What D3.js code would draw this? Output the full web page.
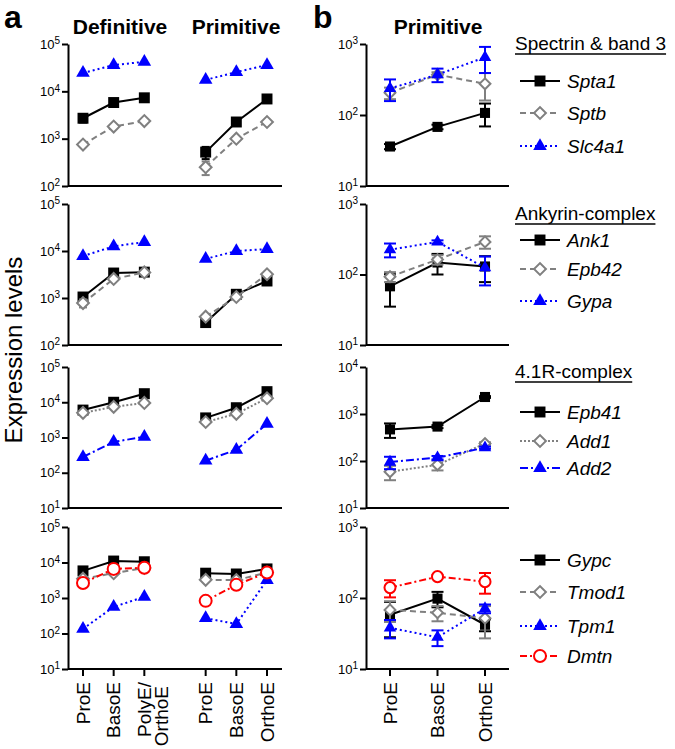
<!DOCTYPE html>
<html>
<head>
<meta charset="utf-8">
<script src="https://cdn.jsdelivr.net/npm/d3@7"></script>
<style>
  body { margin: 0; background: #fff; }
  text { font-family: "Liberation Sans", Arial, sans-serif; fill: #000; }
</style>
</head>
<body>
<script>
// stages and groups
var stagesDef = ["ProE", "BasoE", "PolyE/OrthoE"];
var stagesPrim = ["ProE", "BasoE", "OrthoE"];
var groups = ["Definitive", "Primitive"];
var legendTitles = ["Spectrin & band 3", "Ankyrin-complex", "4.1R-complex", ""];
var genes = [
  ["Spta1", "Sptb", "Slc4a1"],
  ["Ank1", "Epb42", "Gypa"],
  ["Epb41", "Add1", "Add2"],
  ["Gypc", "Tmod1", "Tpm1", "Dmtn"]
];

// panel a, definitive / primitive (per row, per gene, per stage)
var aDef = [
  [[2700, 5800, 7300], [750, 1800, 2350], [24500, 36000, 42000]],
  [[1050, 3400, 3550], [780, 2550, 3500], [7800, 12600, 15500]],
  [[6000, 10000, 17500], [5000, 7400, 9600], [280, 750, 1050]],
  [[5800, 11000, 10500], [3500, 5000, 7000], [135, 560, 1080], [2650, 6600, 7100]]
];
var aDefErr = [
  [[500, 0, 0], [0, 0, 0], [0, 0, 0]],
  [[0, 0, 0], [150, 0, 0], [0, 0, 0]],
  [[0, 0, 0], [0, 0, 0], [0, 0, 0]],
  [[0, 0, 0], [0, 0, 0], [0, 0, 0], [0, 0, 0]]
];
var aPrim = [
  [[520, 2250, 6900], [250, 1000, 2250], [17500, 25500, 36000]],
  [[300, 1200, 2300], [400, 1050, 3200], [6800, 10000, 11000]],
  [[3600, 7000, 20000], [2750, 4700, 13000], [220, 450, 2450]],
  [[5000, 4750, 6600], [3250, 3200, 5200], [270, 185, 3200], [830, 2350, 5200]]
];
var aPrimErr = [
  [[150, 0, 0], [80, 0, 0], [0, 0, 0]],
  [[30, 0, 0], [0, 0, 0], [0, 0, 0]],
  [[0, 0, 0], [0, 0, 0], [0, 0, 0]],
  [[0, 0, 0], [0, 0, 0], [0, 0, 0], [0, 0, 0]]
];

// panel b, primitive with error
var bMean = [
  [[36, 68, 107], [205, 370, 275], [237, 370, 650]],
  [[68, 148, 130], [93, 163, 290], [225, 290, 125]],
  [[470, 540, 2300], [59, 83, 235], [95, 118, 192]],
  [[58, 98, 42], [68, 62, 52], [38, 28, 71], [140, 200, 170]]
];
var bErr = [
  [[3, 5, 38], [38, 30, 115], [80, 80, 260]],
  [[33, 48, 52], [15, 25, 58], [50, 15, 55]],
  [[160, 40, 100], [20, 20, 15], [28, 10, 10]],
  [[30, 24, 8], [22, 15, 25], [11, 7, 10], [38, 10, 55]]
];

var aDomains = [[1e2, 1e5], [1e2, 1e5], [1e1, 1e5], [1e1, 1e5]];
var bDomains = [[1e1, 1e3], [1e1, 1e3], [1e1, 1e4], [1e1, 1e3]];

// layout
var W = 675, H = 749;
var rowTop = [44, 204, 367, 527], rowBot = [186, 345, 508, 669];
var aAxisX = 68, aAxisEnd = 282;
var bAxisX = 366, bAxisEnd = 509;

// look of each series slot
var colors = ["#000000", "#808080", "#0000ff", "#ff0000"];
var shapes = ["square", "diamond", "triangle", "circle"];
var dashes = [
  [null, "6,4", "2,3"],
  [null, "6,4", "2,3"],
  [null, "2,2", "8,3,2,3"],
  [null, "6,4", "2,3", "7,3,2,3"]
];

var svg = d3.select("body").append("svg").attr("width", W).attr("height", H);

function drawMarker(g, shape, x, y, col, s) {
  s = s || 1;
  if (shape == "square") {
    g.append("path").attr("d", d3.symbol(d3.symbolSquare, 120 * s * s)())
      .attr("transform", "translate(" + x + "," + y + ")").attr("fill", col);
  } else if (shape == "diamond") {
    g.append("path").attr("d", d3.symbol(d3.symbolSquare, 70 * s * s)())
      .attr("transform", "translate(" + x + "," + y + ") rotate(45)")
      .attr("fill", "#fff").attr("stroke", col).attr("stroke-width", 2);
  } else if (shape == "triangle") {
    g.append("path").attr("d", d3.symbol(d3.symbolTriangle, 80 * s * s)())
      .attr("transform", "translate(" + x + "," + y + ")").attr("fill", col);
  } else {
    g.append("circle").attr("cx", x).attr("cy", y).attr("r", 6 * s)
      .attr("fill", "#fff").attr("stroke", col).attr("stroke-width", 2);
  }
}

function yAxis(g, y, x) {
  var d = y.domain();
  var vals = [];
  for (var p = Math.log10(d[0]); p <= Math.log10(d[1]); p++) vals.push(Math.pow(10, p));
  var ax = g.append("g").attr("transform", "translate(" + x + ",0)")
    .call(d3.axisLeft(y).tickValues(vals).tickSize(6).tickSizeOuter(0).tickPadding(2));
  ax.select(".domain").attr("stroke-width", 2);
  ax.selectAll(".tick line").attr("stroke-width", 2);
  ax.selectAll(".tick text").each(function(v) {
    var t = d3.select(this);
    t.text("10").attr("font-size", 13).attr("font-family", "Liberation Sans, Arial, sans-serif");
    t.append("tspan").attr("dy", "-0.45em").attr("font-size", 10).text(Math.round(Math.log10(v)));
  });
}

function series(g, xs, means, errs, y, col, shape, dash, cap, s) {
  var pts = means.map(function(m, i) { return [xs[i], y(m)]; });
  g.append("path").attr("d", d3.line()(pts)).attr("fill", "none")
    .attr("stroke", col).attr("stroke-width", 2).attr("stroke-dasharray", dash);
  var dom = y.domain();
  means.forEach(function(m, i) {
    var e = errs[i];
    if (!e) return;
    var lo = y(Math.max(m - e, dom[0])), hi = y(m + e);
    g.append("line").attr("x1", xs[i]).attr("x2", xs[i]).attr("y1", lo).attr("y2", hi)
      .attr("stroke", col).attr("stroke-width", 2);
    [lo, hi].forEach(function(yy) {
      g.append("line").attr("x1", xs[i] - cap / 2).attr("x2", xs[i] + cap / 2)
        .attr("y1", yy).attr("y2", yy).attr("stroke", col).attr("stroke-width", 2);
    });
  });
  means.forEach(function(m, i) { drawMarker(g, shape, xs[i], y(m), col, s); });
}

// panel a positions: 0..2 definitive, 4..6 primitive
var xa = d3.scaleLinear().domain([0, 6]).range([83, 267]);
var xb = d3.scalePoint().domain(stagesPrim).range([390, 485]);

for (var r = 0; r < 4; r++) {
  var ya = d3.scaleLog().domain(aDomains[r]).range([rowBot[r], rowTop[r]]);
  var yb = d3.scaleLog().domain(bDomains[r]).range([rowBot[r], rowTop[r]]);
  var ga = svg.append("g"), gb = svg.append("g");

  ga.append("line").attr("x1", aAxisX).attr("x2", aAxisEnd).attr("y1", rowBot[r]).attr("y2", rowBot[r])
    .attr("stroke", "#000").attr("stroke-width", 2);
  gb.append("line").attr("x1", bAxisX).attr("x2", bAxisEnd).attr("y1", rowBot[r]).attr("y2", rowBot[r])
    .attr("stroke", "#000").attr("stroke-width", 2);
  yAxis(ga, ya, aAxisX);
  yAxis(gb, yb, bAxisX);

  for (var k = 0; k < genes[r].length; k++) {
    var col = colors[k], sh = shapes[k], da = dashes[r][k];
    series(ga, [0, 1, 2].map(function(i) { return xa(i); }), aDef[r][k], aDefErr[r][k], ya, col, sh, da, 8, 1);
    series(ga, [4, 5, 6].map(function(i) { return xa(i); }), aPrim[r][k], aPrimErr[r][k], ya, col, sh, da, 8, 1);
    series(gb, stagesPrim.map(function(s) { return xb(s); }), bMean[r][k], bErr[r][k], yb, col, sh, da, 12, 0.92);
  }

  // legend
  var lg = svg.append("g");
  var n = genes[r].length;
  var titleY = [50, 220, 378, 0][r];
  var itemY = [[81, 113, 146], [240, 269, 301], [412, 441, 468], [560, 592, 626, 656]][r];
  if (legendTitles[r]) {
    var tt = lg.append("text").attr("x", 515).attr("y", titleY).attr("font-size", 19).text(legendTitles[r]);
    var tw = tt.node().getComputedTextLength();
    lg.append("line").attr("x1", 515).attr("x2", 515 + tw).attr("y1", titleY + 4).attr("y2", titleY + 4)
      .attr("stroke", "#000").attr("stroke-width", 1.5);
  }
  for (var k = 0; k < n; k++) {
    lg.append("line").attr("x1", 520).attr("x2", 560).attr("y1", itemY[k]).attr("y2", itemY[k])
      .attr("stroke", colors[k]).attr("stroke-width", 2).attr("stroke-dasharray", dashes[r][k]);
    drawMarker(lg, shapes[k], 540, itemY[k], colors[k], 1);
    lg.append("text").attr("x", 567).attr("y", itemY[k] + 7).attr("font-size", 19)
      .attr("font-style", "italic").text(genes[r][k]);
  }
}

// x ticks and labels on bottom row
var bottom = rowBot[3];
var aTicks = [0, 1, 2, 4, 5, 6];
var aLabels = stagesDef.concat(stagesPrim);
aTicks.forEach(function(t, i) {
  var x = xa(t);
  svg.append("line").attr("x1", x).attr("x2", x).attr("y1", bottom).attr("y2", bottom + 7)
    .attr("stroke", "#000").attr("stroke-width", 2);
  var lab = aLabels[i];
  if (lab.indexOf("/") > 0) {
    var parts = lab.split("/");
    svg.append("text").attr("transform", "translate(" + x + "," + (bottom + 13) + ") rotate(-90)")
      .attr("text-anchor", "end").attr("dy", "0.35em").attr("font-size", 19).text(parts[0] + "/");
    svg.append("text").attr("transform", "translate(" + (x + 17) + "," + (bottom + 17) + ") rotate(-90)")
      .attr("text-anchor", "end").attr("dy", "0.35em").attr("font-size", 19).text(parts[1]);
  } else {
    svg.append("text").attr("transform", "translate(" + x + "," + (bottom + 13) + ") rotate(-90)")
      .attr("text-anchor", "end").attr("dy", "0.35em").attr("font-size", 19).text(lab);
  }
});
stagesPrim.forEach(function(s) {
  var x = xb(s);
  svg.append("line").attr("x1", x).attr("x2", x).attr("y1", bottom).attr("y2", bottom + 7)
    .attr("stroke", "#000").attr("stroke-width", 2);
  svg.append("text").attr("transform", "translate(" + x + "," + (bottom + 13) + ") rotate(-90)")
    .attr("text-anchor", "end").attr("dy", "0.35em").attr("font-size", 19).text(s);
});

// headings
svg.append("text").attr("x", 4).attr("y", 28).attr("font-size", 32).attr("font-weight", "bold").text("a");
svg.append("text").attr("x", 313).attr("y", 28).attr("font-size", 32).attr("font-weight", "bold").text("b");
svg.append("text").attr("x", 120).attr("y", 34).attr("text-anchor", "middle").attr("font-size", 21)
  .attr("font-weight", "bold").text(groups[0]);
svg.append("text").attr("x", 236).attr("y", 34).attr("text-anchor", "middle").attr("font-size", 21)
  .attr("font-weight", "bold").text(groups[1]);
svg.append("text").attr("x", 438).attr("y", 34).attr("text-anchor", "middle").attr("font-size", 21)
  .attr("font-weight", "bold").text(groups[1]);

svg.append("text").attr("transform", "translate(22,350) rotate(-90)").attr("text-anchor", "middle")
  .attr("font-size", 24).text("Expression levels");
</script>
</body>
</html>
